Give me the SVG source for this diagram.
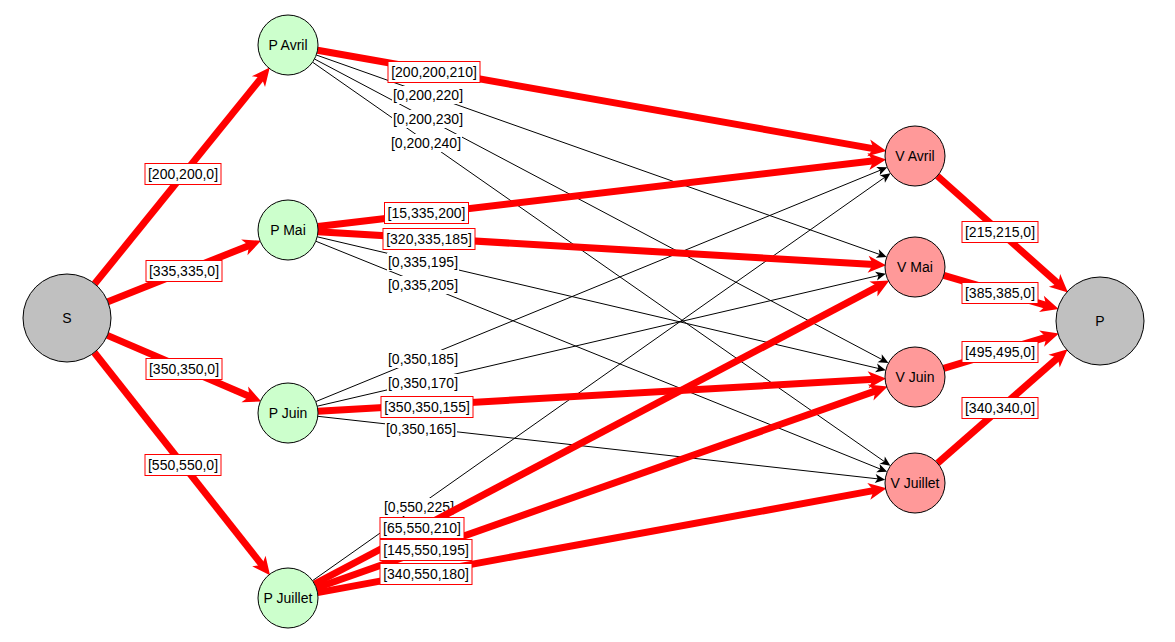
<svg xmlns="http://www.w3.org/2000/svg" width="1175" height="642" viewBox="0 0 1175 642">
<style>
.n{stroke:#000;stroke-width:1}
.src{fill:#c0c0c0}
.prod{fill:#ccffcc}
.sale{fill:#ff9999}
.nt{font-family:"Liberation Sans",Arial,sans-serif;font-size:14px;fill:#000;text-anchor:middle}
.red{stroke:#ff0000;stroke-width:7;fill:none;marker-end:url(#ar)}
.blk{stroke:#000;stroke-width:1;fill:none;marker-end:url(#ab)}
.lr{fill:#fff;stroke:#ff0000;stroke-width:1}
.lb{fill:#fff;stroke:none}
.lt{font-family:"Liberation Sans",Arial,sans-serif;font-size:14px;fill:#000;text-anchor:middle}
</style>
<defs>
<marker id="ar" markerUnits="userSpaceOnUse" markerWidth="40" markerHeight="40" viewBox="-20 -20 40 40" refX="0" refY="0" orient="auto" overflow="visible">
<path d="M12,0 L-6,-8.5 L-1,0 L-6,8.5 Z" fill="#ff0000"/>
</marker>
<marker id="ab" markerUnits="userSpaceOnUse" markerWidth="20" markerHeight="20" viewBox="-10 -10 20 20" refX="0" refY="0" orient="auto" overflow="visible">
<path d="M7,0 L-3,-4.5 L-0.5,0 L-3,4.5 Z" fill="#000"/>
</marker>
</defs>
<rect width="1175" height="642" fill="#fff"/>
<g id="connectors">
<g id="black-edges">
<line class="blk" x1="316.3" y1="55.0" x2="880.1" y2="254.6"/>
<line class="blk" x1="314.5" y1="59.0" x2="882.3" y2="359.7"/>
<line class="blk" x1="312.6" y1="62.2" x2="884.7" y2="461.8"/>
<line class="blk" x1="317.2" y1="236.8" x2="879.0" y2="368.6"/>
<line class="blk" x1="315.8" y1="241.2" x2="880.7" y2="469.2"/>
<line class="blk" x1="315.8" y1="401.6" x2="880.8" y2="170.0"/>
<line class="blk" x1="317.2" y1="406.2" x2="879.0" y2="275.4"/>
<line class="blk" x1="317.8" y1="416.3" x2="878.2" y2="478.9"/>
<line class="blk" x1="312.5" y1="580.7" x2="884.8" y2="177.3"/>
</g>
<g id="black-labels">
<rect class="lb" x="392" y="86" width="72" height="18"/><text class="lt" x="428" y="100">[0,200,220]</text>
<rect class="lb" x="392" y="110" width="72" height="18"/><text class="lt" x="428" y="124">[0,200,230]</text>
<rect class="lb" x="390" y="134" width="72" height="18"/><text class="lt" x="426" y="148">[0,200,240]</text>
<rect class="lb" x="387" y="253" width="72" height="18"/><text class="lt" x="423" y="267">[0,335,195]</text>
<rect class="lb" x="387" y="276" width="72" height="18"/><text class="lt" x="423" y="290">[0,335,205]</text>
<rect class="lb" x="387" y="350" width="72" height="18"/><text class="lt" x="423" y="364">[0,350,185]</text>
<rect class="lb" x="387" y="374" width="72" height="18"/><text class="lt" x="423" y="388">[0,350,170]</text>
<rect class="lb" x="385" y="420" width="72" height="18"/><text class="lt" x="421" y="434">[0,350,165]</text>
<rect class="lb" x="383" y="498" width="72" height="18"/><text class="lt" x="419" y="512">[0,550,225]</text>
</g>
<g id="red-edges">
<line class="red" x1="94.7" y1="283.8" x2="262.2" y2="76.9"/>
<line class="red" x1="107.9" y1="301.7" x2="249.9" y2="245.2"/>
<line class="red" x1="107.4" y1="335.4" x2="250.3" y2="396.8"/>
<line class="red" x1="94.3" y1="352.5" x2="262.6" y2="565.8"/>
<line class="red" x1="937.4" y1="176.0" x2="1059.0" y2="284.4"/>
<line class="red" x1="943.8" y1="275.4" x2="1047.2" y2="305.6"/>
<line class="red" x1="943.7" y1="368.3" x2="1047.4" y2="336.9"/>
<line class="red" x1="937.6" y1="463.2" x2="1058.6" y2="357.2"/>
<line class="red" x1="317.5" y1="50.2" x2="874.6" y2="148.9"/>
<line class="red" x1="317.8" y1="226.5" x2="874.3" y2="160.8"/>
<line class="red" x1="317.9" y1="231.8" x2="874.1" y2="264.6"/>
<line class="red" x1="318.0" y1="411.3" x2="874.1" y2="379.3"/>
<line class="red" x1="314.5" y1="584.0" x2="878.7" y2="286.1"/>
<line class="red" x1="316.3" y1="588.0" x2="876.3" y2="390.6"/>
<line class="red" x1="317.5" y1="592.6" x2="874.7" y2="490.4"/>
</g>
<g id="red-labels">
<rect class="lr" x="145" y="163.5" width="76" height="21"/><text class="lt" x="183" y="179">[200,200,0]</text>
<rect class="lr" x="146" y="260.5" width="76" height="21"/><text class="lt" x="184" y="276">[335,335,0]</text>
<rect class="lr" x="146" y="358.5" width="76" height="21"/><text class="lt" x="184" y="374">[350,350,0]</text>
<rect class="lr" x="145" y="454.5" width="76" height="21"/><text class="lt" x="183" y="470">[550,550,0]</text>
<rect class="lr" x="388" y="61.5" width="92" height="21"/><text class="lt" x="434" y="77">[200,200,210]</text>
<rect class="lr" x="384.5" y="202.5" width="84" height="21"/><text class="lt" x="426.5" y="218">[15,335,200]</text>
<rect class="lr" x="383" y="228.5" width="92" height="21"/><text class="lt" x="429" y="244">[320,335,185]</text>
<rect class="lr" x="381" y="396.5" width="92" height="21"/><text class="lt" x="427" y="412">[350,350,155]</text>
<rect class="lr" x="380" y="517.5" width="84" height="21"/><text class="lt" x="422" y="533">[65,550,210]</text>
<rect class="lr" x="380" y="539.5" width="92" height="21"/><text class="lt" x="426" y="555">[145,550,195]</text>
<rect class="lr" x="380" y="563.5" width="92" height="21"/><text class="lt" x="426" y="579">[340,550,180]</text>
<rect class="lr" x="962" y="221.5" width="76" height="21"/><text class="lt" x="1000" y="237">[215,215,0]</text>
<rect class="lr" x="962" y="282.5" width="76" height="21"/><text class="lt" x="1000" y="298">[385,385,0]</text>
<rect class="lr" x="962" y="341.5" width="76" height="21"/><text class="lt" x="1000" y="357">[495,495,0]</text>
<rect class="lr" x="962" y="397.5" width="76" height="21"/><text class="lt" x="1000" y="413">[340,340,0]</text>
</g>
</g>
<g id="nodes">
<g id="node-S"><circle class="n src" cx="67" cy="318" r="44"/><text class="nt" x="67" y="323">S</text></g>
<g id="node-P"><circle class="n src" cx="1100" cy="321" r="44"/><text class="nt" x="1100" y="326">P</text></g>
<g id="node-PAvril"><circle class="n prod" cx="288" cy="45" r="30"/><text class="nt" x="288" y="50">P Avril</text></g>
<g id="node-PMai"><circle class="n prod" cx="288" cy="230" r="30"/><text class="nt" x="288" y="235">P Mai</text></g>
<g id="node-PJuin"><circle class="n prod" cx="288" cy="413" r="30"/><text class="nt" x="288" y="418">P Juin</text></g>
<g id="node-PJuillet"><circle class="n prod" cx="288" cy="598" r="30"/><text class="nt" x="288" y="603">P Juillet</text></g>
<g id="node-VAvril"><circle class="n sale" cx="915" cy="156" r="30"/><text class="nt" x="915" y="161">V Avril</text></g>
<g id="node-VMai"><circle class="n sale" cx="915" cy="267" r="30"/><text class="nt" x="915" y="272">V Mai</text></g>
<g id="node-VJuin"><circle class="n sale" cx="915" cy="377" r="30"/><text class="nt" x="915" y="382">V Juin</text></g>
<g id="node-VJuillet"><circle class="n sale" cx="915" cy="483" r="30"/><text class="nt" x="915" y="488">V Juillet</text></g>
</g>
</svg>
